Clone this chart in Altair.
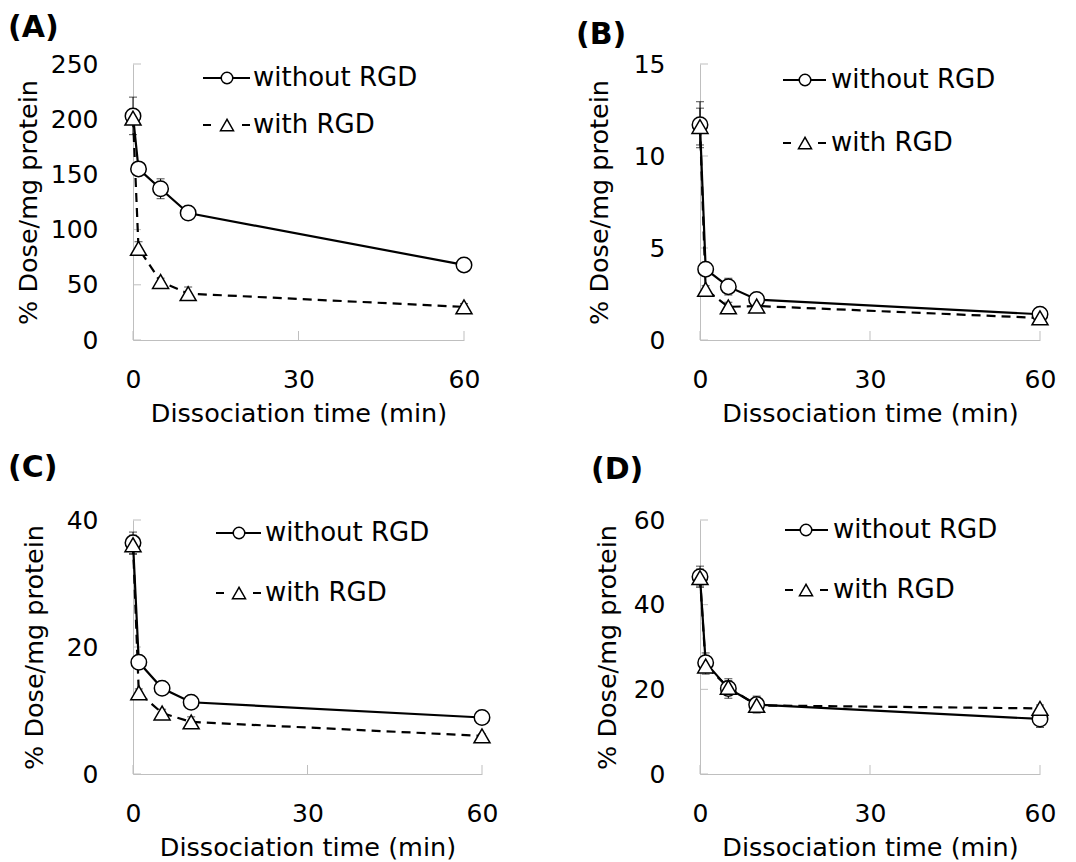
import altair as alt
import pandas as pd

FONT = "DejaVu Sans"

times = [0, 1, 5, 10, 60]
series_names = ["without RGD", "with RGD"]

a_without = [203, 155, 137, 115, 68]
a_without_err = [17, 3, 9, 3, 3]
a_with = [201, 83, 53, 42, 30]
a_with_err = [3, 6, 3, 6, 3]

b_without = [11.7, 3.85, 2.9, 2.2, 1.4]
b_without_err = [1.25, 0.2, 0.45, 0.15, 0.1]
b_with = [11.6, 2.75, 1.8, 1.85, 1.2]
b_with_err = [1.0, 0.2, 0.25, 0.2, 0.1]

c_without = [36.4, 17.6, 13.5, 11.3, 8.9]
c_without_err = [1.7, 0.6, 0.5, 0.6, 0.4]
c_with = [36.1, 12.8, 9.6, 8.2, 6.0]
c_with_err = [1.5, 0.6, 0.6, 0.8, 0.3]

d_without = [46.6, 26.3, 20.2, 16.4, 13.0]
d_without_err = [2.5, 2.3, 2.3, 2.0, 2.0]
d_with = [46.4, 25.5, 20.5, 16.2, 15.5]
d_with_err = [2.0, 1.9, 1.5, 1.5, 0.8]

x_ticks = [0, 30, 60]
a_yticks = [0, 50, 100, 150, 200, 250]
b_yticks = [0, 5, 10, 15]
c_yticks = [0, 20, 40]
d_yticks = [0, 20, 40, 60]

x_title = "Dissociation time (min)"
y_title = "% Dose/mg protein"

panels = [
    dict(label="(A)", wo=a_without, wo_err=a_without_err, wi=a_with, wi_err=a_with_err,
         yticks=a_yticks, width=331, height=276, title_pad=9,
         leg=dict(x0=70, x1=117, xm=94, xt=120, y1=14, y2=61), lab=(-125, -36)),
    dict(label="(B)", wo=b_without, wo_err=b_without_err, wi=b_with, wi_err=b_with_err,
         yticks=b_yticks, width=340, height=276, title_pad=21,
         leg=dict(x0=83, x1=126, xm=105, xt=131, y1=16, y2=79), lab=(-124, -29)),
    dict(label="(C)", wo=c_without, wo_err=c_without_err, wi=c_with, wi_err=c_with_err,
         yticks=c_yticks, width=349, height=254, title_pad=19,
         leg=dict(x0=83, x1=128, xm=106, xt=132, y1=13, y2=73), lab=(-125, -52)),
    dict(label="(D)", wo=d_without, wo_err=d_without_err, wi=d_with, wi_err=d_with_err,
         yticks=d_yticks, width=340, height=254, title_pad=13,
         leg=dict(x0=85, x1=128, xm=106, xt=133, y1=10, y2=70), lab=(-109, -50)),
]


def make_panel(p):
    ymax = p["yticks"][-1]
    h = p["height"]
    df = pd.DataFrame({
        "time": times * 2,
        "value": p["wo"] + p["wi"],
        "err": p["wo_err"] + p["wi_err"],
        "series": [series_names[0]] * len(times) + [series_names[1]] * len(times),
    })
    df["lo"] = df["value"] - df["err"]
    df["hi"] = df["value"] + df["err"]

    xs = alt.Scale(domain=[0, 60], nice=False, zero=False)
    ys = alt.Scale(domain=[0, ymax], nice=False)
    xaxis = alt.Axis(values=x_ticks, title=x_title, labelFlush=False)
    yaxis = alt.Axis(values=p["yticks"], title=y_title, titlePadding=p["title_pad"],
                     labelFlush=False)

    def X(field):
        return alt.X(field, type="quantitative", scale=xs, axis=xaxis)

    def Y(field):
        return alt.Y(field, type="quantitative", scale=ys, axis=yaxis)

    base = alt.Chart(df)

    ytick_layer = alt.Chart(pd.DataFrame({"v": p["yticks"]})).mark_rule(
        color="#bfbfbf", strokeWidth=1
    ).encode(y=Y("v"), x=alt.value(0), x2=alt.value(8))

    xtick_layer = alt.Chart(pd.DataFrame({"v": x_ticks})).mark_rule(
        color="#bfbfbf", strokeWidth=1
    ).encode(x=X("v"), y=alt.value(h), y2=alt.value(h - 9))

    err_rule = base.mark_rule(color="black", strokeWidth=1).encode(
        x=X("time"), y=Y("lo"), y2="hi:Q"
    )
    cap_hi = base.mark_tick(color="black", orient="horizontal", size=8, thickness=1).encode(
        x=X("time"), y=Y("hi")
    )
    cap_lo = base.mark_tick(color="black", orient="horizontal", size=8, thickness=1).encode(
        x=X("time"), y=Y("lo")
    )

    wo = base.transform_filter(alt.datum.series == series_names[0])
    wi = base.transform_filter(alt.datum.series == series_names[1])

    line_wo = wo.mark_line(color="black", strokeWidth=2.2).encode(x=X("time"), y=Y("value"))
    line_wi = wi.mark_line(color="black", strokeWidth=2.2, strokeDash=[9, 6]).encode(
        x=X("time"), y=Y("value")
    )
    pts_wo = wo.mark_point(shape="circle", filled=True, fill="white", stroke="black",
                           strokeWidth=1.5, size=240, opacity=1).encode(x=X("time"), y=Y("value"))
    pts_wi = wi.mark_point(shape="triangle-up", filled=True, fill="white", stroke="black",
                           strokeWidth=1.5, size=256, opacity=1).encode(x=X("time"), y=Y("value"))

    lg = p["leg"]
    one = alt.Chart(pd.DataFrame({"k": [0]}))
    leg_line1 = one.mark_rule(color="black", strokeWidth=2).encode(
        x=alt.value(lg["x0"]), x2=alt.value(lg["x1"]), y=alt.value(lg["y1"]))
    leg_dash_a = one.mark_rule(color="black", strokeWidth=2).encode(
        x=alt.value(lg["x0"]), x2=alt.value(lg["x0"] + 8), y=alt.value(lg["y2"]))
    leg_dash_b = one.mark_rule(color="black", strokeWidth=2).encode(
        x=alt.value(lg["x1"] - 8), x2=alt.value(lg["x1"]), y=alt.value(lg["y2"]))
    leg_circ = one.mark_point(shape="circle", filled=True, fill="white", stroke="black",
                              strokeWidth=1.5, size=133, opacity=1).encode(
        x=alt.value(lg["xm"]), y=alt.value(lg["y1"]))
    leg_tri = one.mark_point(shape="triangle-up", filled=True, fill="white", stroke="black",
                             strokeWidth=1.5, size=169, opacity=1).encode(
        x=alt.value(lg["xm"]), y=alt.value(lg["y2"]))
    leg_t1 = one.mark_text(align="left", baseline="middle", font=FONT, fontSize=26,
                           color="black").encode(
        x=alt.value(lg["xt"]), y=alt.value(lg["y1"]), text=alt.value(series_names[0]))
    leg_t2 = one.mark_text(align="left", baseline="middle", font=FONT, fontSize=26,
                           color="black").encode(
        x=alt.value(lg["xt"]), y=alt.value(lg["y2"]), text=alt.value(series_names[1]))

    lab = one.mark_text(align="left", baseline="middle", font=FONT, fontSize=30,
                        fontWeight="bold", color="black").encode(
        x=alt.value(p["lab"][0]), y=alt.value(p["lab"][1]), text=alt.value(p["label"]))

    return alt.layer(
        ytick_layer, xtick_layer, err_rule, cap_hi, cap_lo,
        line_wo, line_wi, pts_wo, pts_wi,
        leg_line1, leg_dash_a, leg_dash_b, leg_circ, leg_tri, leg_t1, leg_t2, lab,
    ).properties(width=p["width"], height=p["height"])


charts = [make_panel(p) for p in panels]

chart = alt.concat(
    *charts, columns=2, spacing={"row": 180, "column": 218}, bounds="flush"
).configure_axis(
    domainColor="#bfbfbf", domainWidth=1, ticks=False, grid=False,
    labelFont=FONT, labelFontSize=25, labelColor="black",
    titleFont=FONT, titleFontSize=25.5, titleFontWeight="normal", titleColor="black",
).configure_axisY(
    labelPadding=35,
).configure_axisX(
    labelPadding=27, titlePadding=9,
).configure_view(
    stroke=None
).properties(
    padding={"left": 0, "top": 5, "right": 0, "bottom": 0},
    background="white",
)

chart.save("out.html", embed_options={"renderer": "svg", "actions": False})
